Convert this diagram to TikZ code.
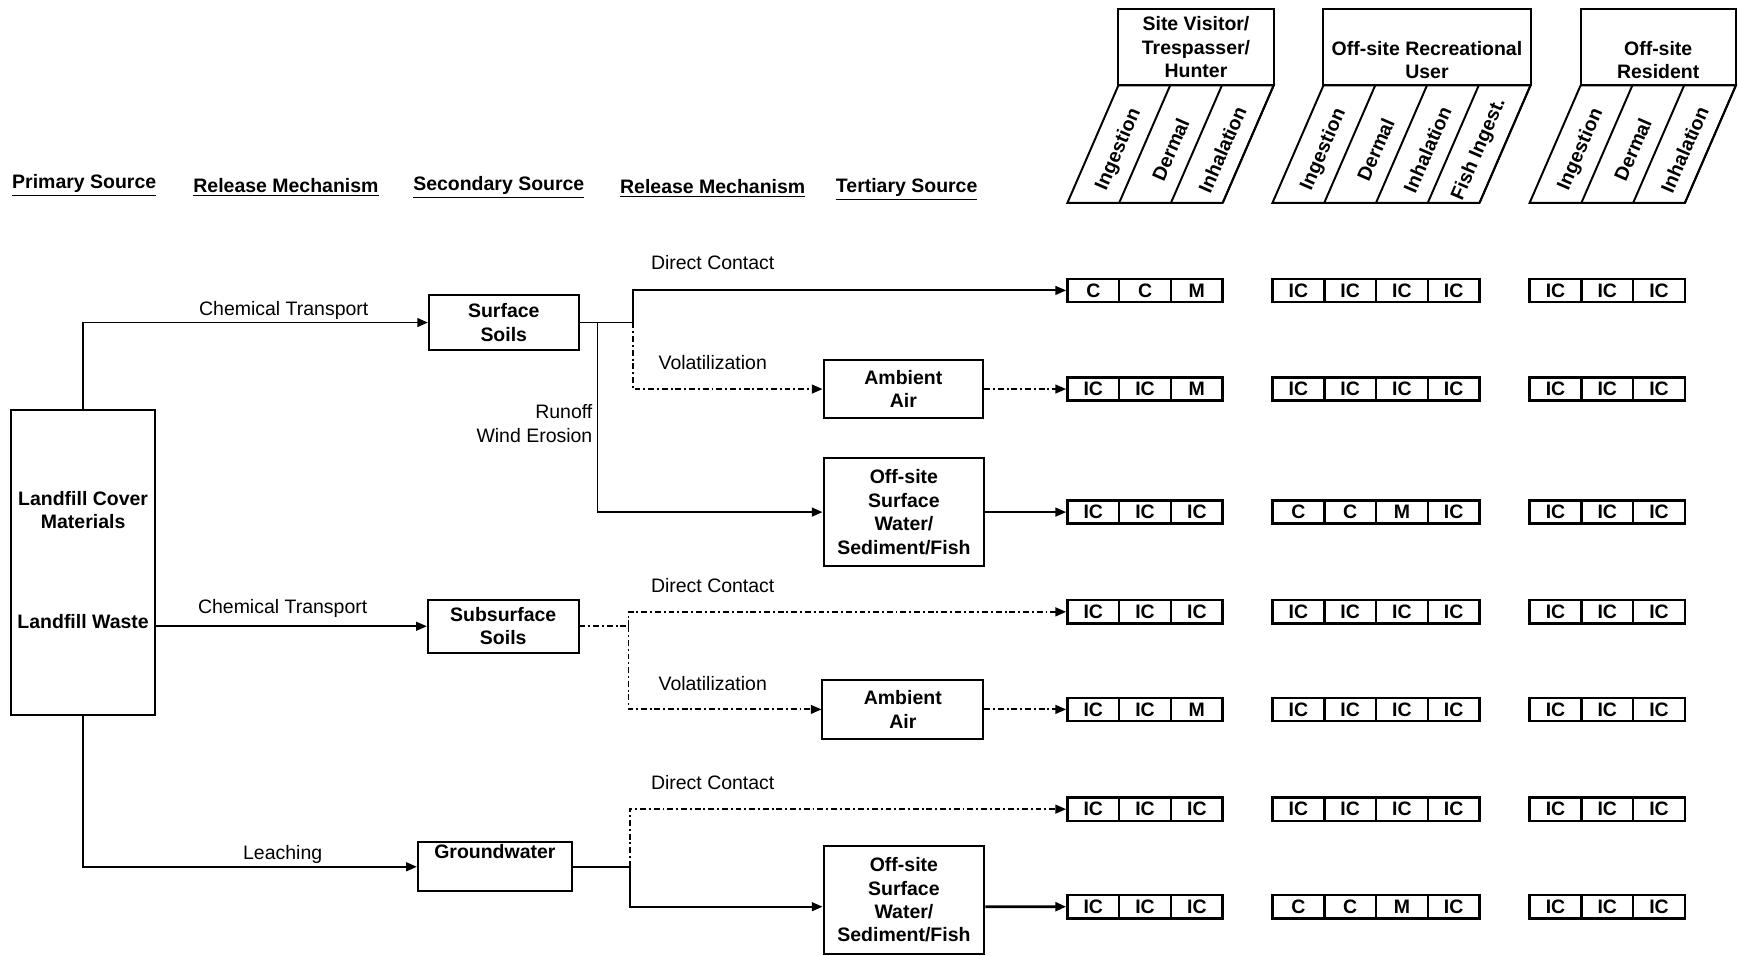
\documentclass[tikz,border=0pt]{standalone}
\usepackage{fontspec}
\setmainfont{Liberation Sans}
\usetikzlibrary{arrows.meta}
\tikzset{
  box/.style={draw, line width=1pt, font=\bfseries, align=center, inner sep=0pt},
  cell/.style={draw, line width=1.3pt, font=\bfseries, minimum width=9.34mm, minimum height=4.2mm, inner sep=0pt},
  hdr/.style={font=\bfseries},
  dd/.style={dash pattern=on 3pt off 1.5pt on 1pt off 1.5pt}
}
\begin{document}
\begin{tikzpicture}[x=0.2mm, y=-0.2mm, line width=0.95pt, >={Triangle[length=5.5pt,width=4.5pt]}]
\useasboundingbox (0,0) rectangle (1568,862);
% column headings
\node[hdr] (t1) at (76,167) {\underline{Primary Source}};
\node[hdr] (t2) at (258,169) {\underline{Release Mechanism}};
\node[hdr] (t3) at (450,169) {\underline{Secondary Source}};
\node[hdr] (t4) at (643,170) {\underline{Release Mechanism}};
\node[hdr] (t5) at (818,171) {\underline{Tertiary Source}};
% sources
\node[box, minimum width=26mm, minimum height=55mm] (prim) at (75,507.5) {};
\node[hdr, align=center] (cover) at (75,460) {Landfill Cover\\Materials};
\node[hdr] (waste) at (75,561) {Landfill Waste};
\node[box, minimum width=27mm, minimum height=10mm] (ssoil) at (454.5,291) {Surface\\Soils};
\node[box, minimum width=27.2mm, minimum height=9.6mm] (subsoil) at (454,565) {Subsurface\\Soils};
\node[box, minimum width=27.8mm, minimum height=8.8mm] (gw) at (446.5,782) {Groundwater\\\strut};
\node[box, minimum width=28.8mm, minimum height=10.4mm] (air1) at (815,351) {Ambient\\Air};
\node[box, minimum width=29mm, minimum height=19.4mm] (sw1) at (815.5,462) {Off-site\\Surface\\Water/\\Sediment/Fish};
\node[box, minimum width=29mm, minimum height=10.6mm] (air2) at (814.5,640) {Ambient\\Air};
\node[box, minimum width=29mm, minimum height=19.4mm] (sw2) at (815.5,812) {Off-site\\Surface\\Water/\\Sediment/Fish};
\coordinate (j1) at (571,291);
\coordinate (j2) at (539,291);
\coordinate (j3) at (567,565);
\coordinate (j4) at (568,782);
% receptors
\node[box, minimum width=28.02mm, minimum height=13.8mm] (h1) at (1079,42.5) {Site Visitor/\\Trespasser/\\Hunter};
\node[box, minimum width=37.36mm, minimum height=13.8mm] (h2) at (1287.4,42.5) {\strut\\Off-site Recreational\\User};
\node[box, minimum width=28.02mm, minimum height=13.8mm] (h3) at (1496,42.5) {\strut\\Off-site\\Resident};
\foreach \L/\n in {963/3, 1148/4, 1380/3}{
  \draw[line width=1pt] (\L,183) -- ({\L+\n*46.7},183) -- ({\L+46+\n*46.7},77) -- ({\L+46},77) -- cycle;
  \foreach \k in {1,...,\n} \draw[line width=1pt] ({\L+\k*46.7},183) -- ({\L+46+\k*46.7},77);
}
\foreach \t [count=\k] in {Ingestion,Dermal,Inhalation}
  \node[hdr, rotate=66.5] (s1-\k) at ({963+(\k-0.5)*46.7+23},135) {\t};
\foreach \t [count=\k] in {Ingestion,Dermal,Inhalation,Fish Ingest.}
  \node[hdr, rotate=66.5] (s2-\k) at ({1148+(\k-0.5)*46.7+23},135) {\t};
\foreach \t [count=\k] in {Ingestion,Dermal,Inhalation}
  \node[hdr, rotate=66.5] (s3-\k) at ({1380+(\k-0.5)*46.7+23},135) {\t};
\foreach \y/\ga/\gb/\gc [count=\r] in {
  262/{C,C,M}/{IC,IC,IC,IC}/{IC,IC,IC},
  351/{IC,IC,M}/{IC,IC,IC,IC}/{IC,IC,IC},
  462/{IC,IC,IC}/{C,C,M,IC}/{IC,IC,IC},
  552/{IC,IC,IC}/{IC,IC,IC,IC}/{IC,IC,IC},
  640/{IC,IC,M}/{IC,IC,IC,IC}/{IC,IC,IC},
  730/{IC,IC,IC}/{IC,IC,IC,IC}/{IC,IC,IC},
  818/{IC,IC,IC}/{C,C,M,IC}/{IC,IC,IC}}{
  \foreach \t [count=\k] in \ga \node[cell] (g1-\r-\k) at ({963+(\k-0.5)*46.7},\y) {\t};
  \foreach \t [count=\k] in \gb \node[cell] (g2-\r-\k) at ({1148+(\k-0.5)*46.7},\y) {\t};
  \foreach \t [count=\k] in \gc \node[cell] (g3-\r-\k) at ({1380+(\k-0.5)*46.7},\y) {\t};
}
% pathways
\draw[->] (prim.north) |- (ssoil.west);
\draw (ssoil.east) -- (j1);
\draw[->] (j1) |- (g1-1-1.west);
\draw[->, dd] (j1) |- (air1.west);
\draw[->] (j2) |- (sw1.west);
\draw[->, dd] (air1.east) -- (g1-2-1.west);
\draw[->] (sw1.east) -- (g1-3-1.west);
\draw[->] (subsoil.west -| prim.east) -- (subsoil.west);
\draw[dd] (subsoil.east) -- (j3);
\draw[->, dd] (j3) |- (g1-4-1.west);
\draw[->, dd] (j3) |- (air2.west);
\draw[->, dd] (air2.east) -- (g1-5-1.west);
\draw[->] (prim.south) |- (gw.west);
\draw (gw.east) -- (j4);
\draw[->, dd] (j4) |- (g1-6-1.west);
\draw[->] (j4) |- ([yshift=-1.2mm]sw2.west);
\draw[->, line width=1.4pt] ([yshift=-1.2mm]sw2.east) -- (g1-7-1.west);
% pathway labels
\node (l1) at (256,280) {Chemical Transport};
\node (l2) at (643,237) {Direct Contact};
\node (l3) at (643,327) {Volatilization};
\node[align=right, anchor=east, inner sep=1pt] (l4) at (537,382) {Runoff\\Wind Erosion};
\node (l5) at (255,549) {Chemical Transport};
\node (l6) at (643,528) {Direct Contact};
\node (l7) at (643,617) {Volatilization};
\node (l8) at (255,771) {Leaching};
\node (l9) at (643,706) {Direct Contact};
\end{tikzpicture}
\end{document}
